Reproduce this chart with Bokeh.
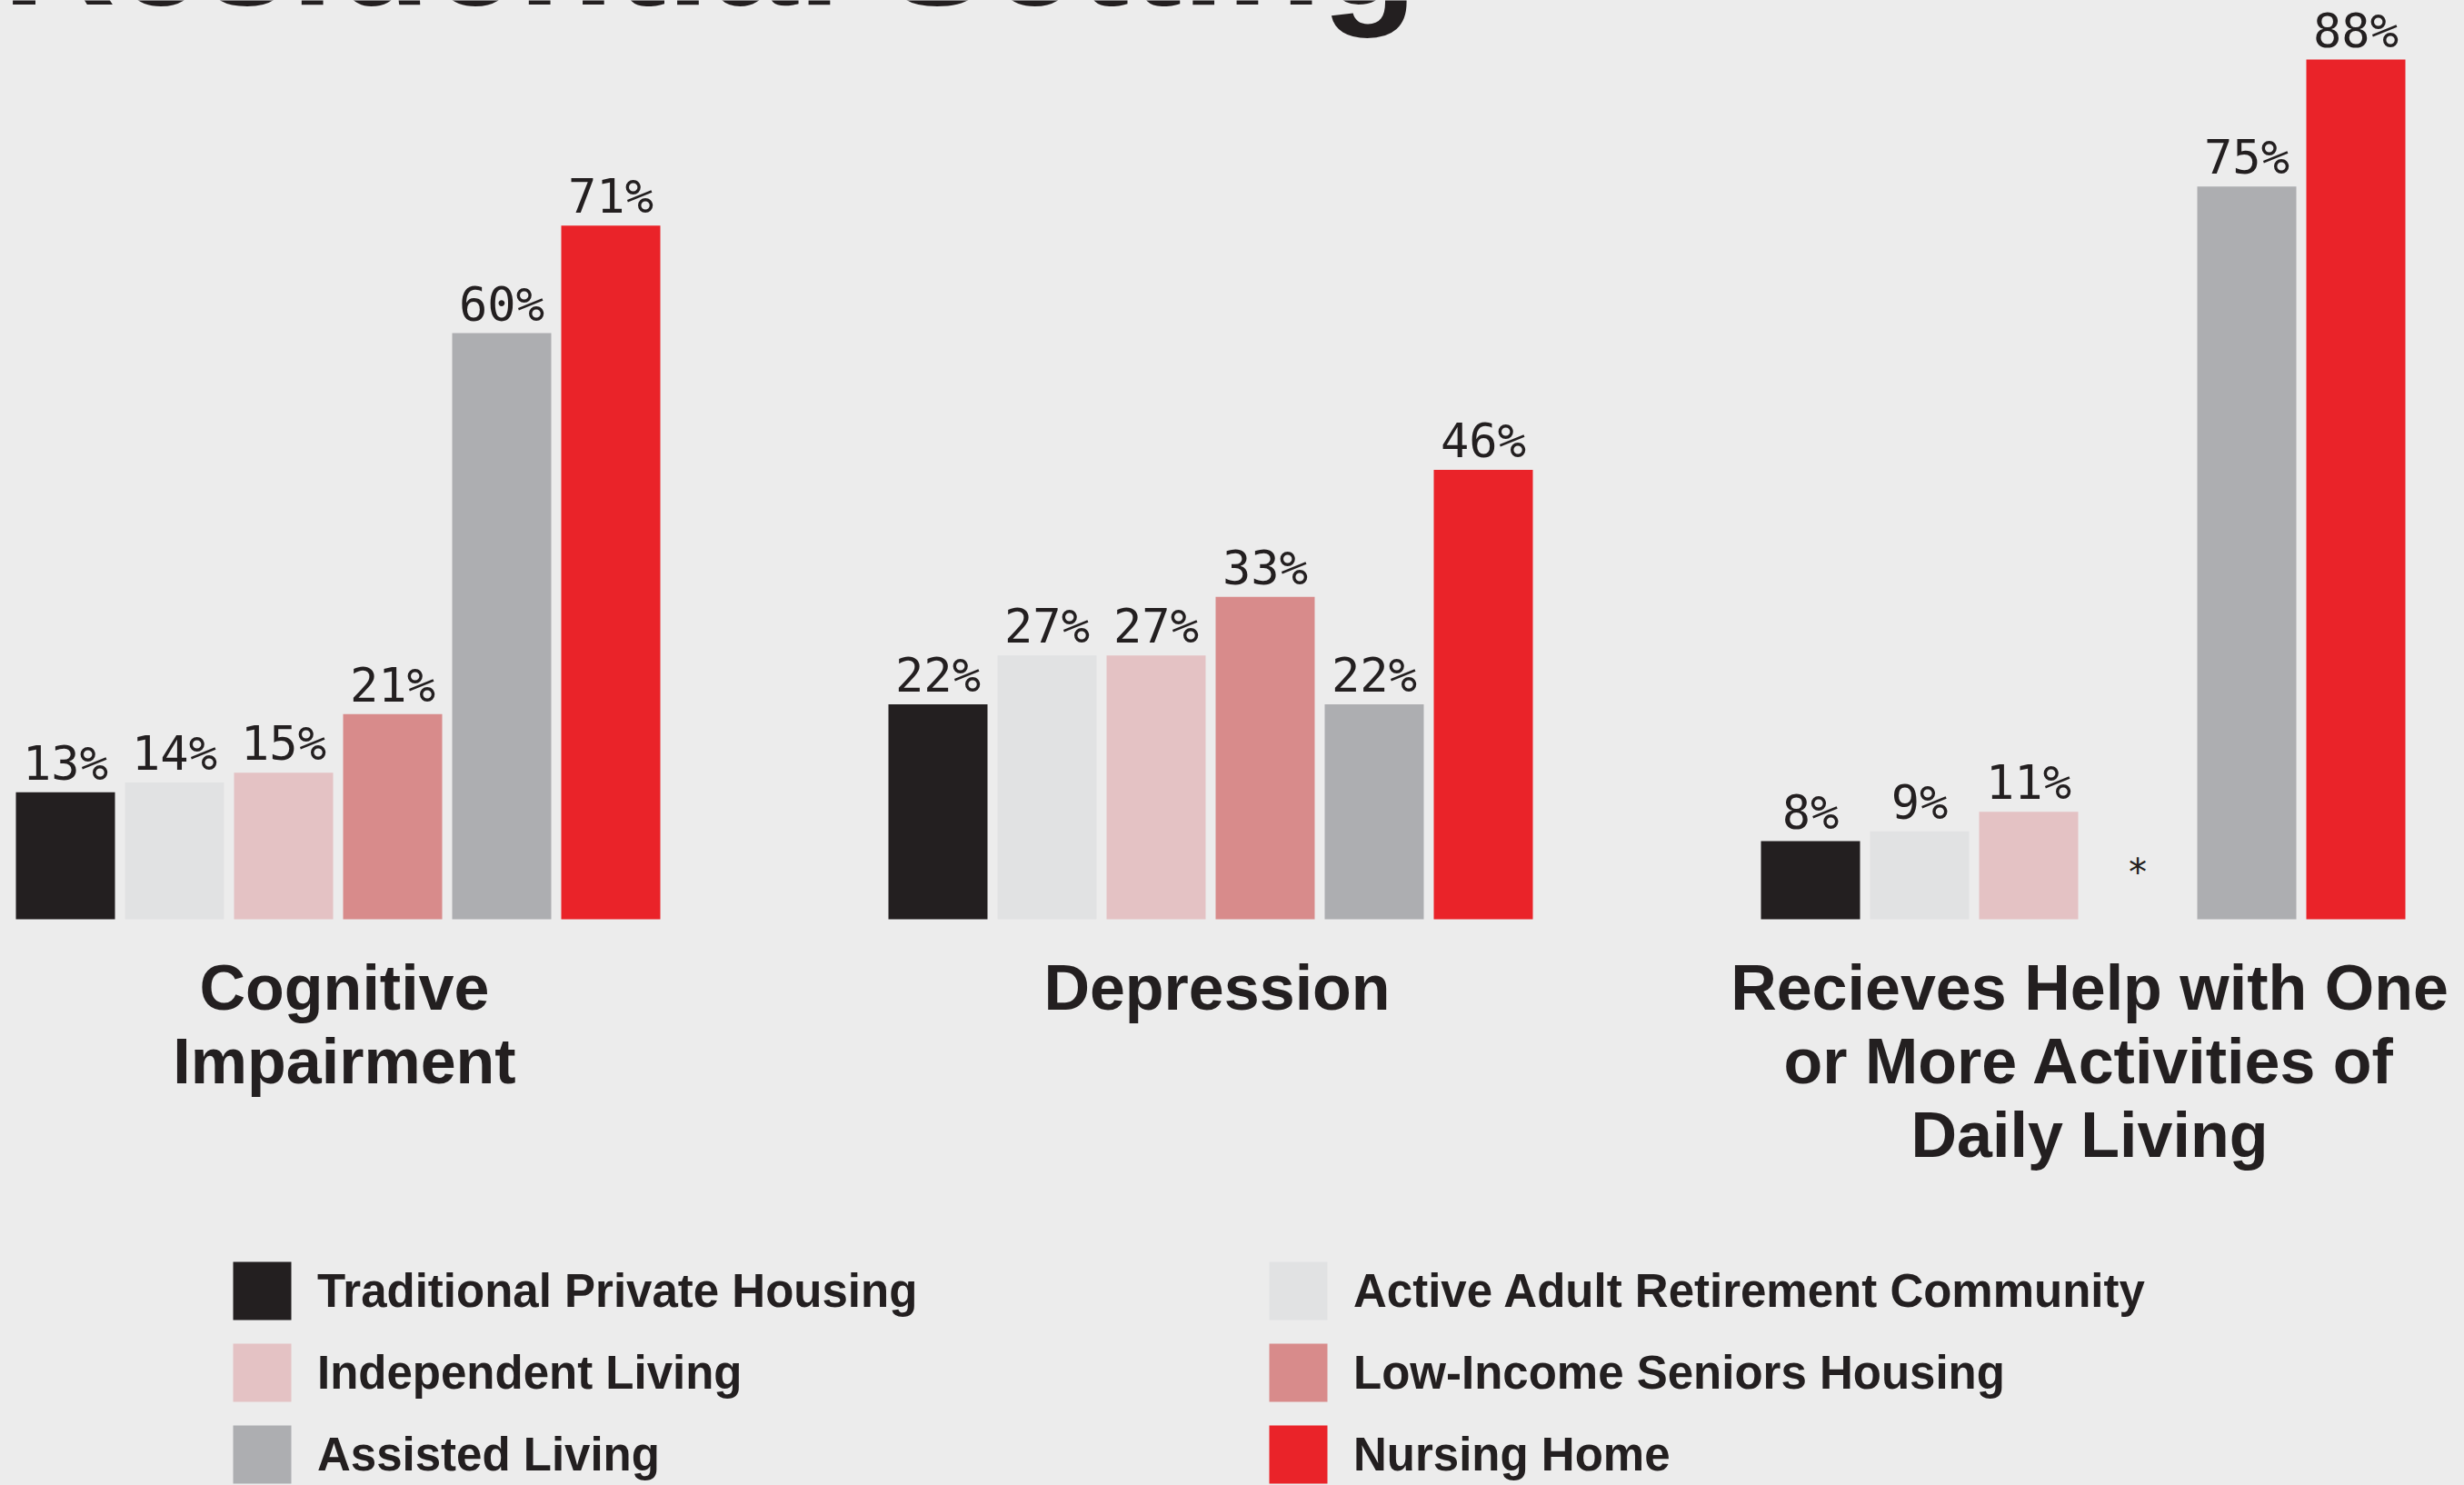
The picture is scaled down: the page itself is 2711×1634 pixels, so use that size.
from bokeh.plotting import figure
from bokeh.models import ColumnDataSource, Range1d, Legend, LegendItem
from bokeh.core.properties import value
from bokeh.embed import file_html
from bokeh.resources import INLINE

# ---------------- data ----------------
title_text = "Residential Setting"
categories = [
    "Cognitive\nImpairment",
    "Depression",
    "Recieves Help with One\nor More Activities of\nDaily Living",
]
series_names = [
    "Traditional Private Housing",
    "Active Adult Retirement Community",
    "Independent Living",
    "Low-Income Seniors Housing",
    "Assisted Living",
    "Nursing Home",
]
traditional_private_housing = [13, 22, 8]
active_adult_retirement = [14, 27, 9]
independent_living = [15, 27, 11]
low_income_seniors = [21, 33, None]   # no data -> "*"
assisted_living = [60, 22, 75]
nursing_home = [71, 46, 88]
missing_marker = "*"

series_values = [traditional_private_housing, active_adult_retirement,
                 independent_living, low_income_seniors, assisted_living,
                 nursing_home]
colors = ["#231F20", "#E1E2E3", "#E4C2C4", "#D88B8B", "#ADAEB1", "#EA2329"]

# ---------------- layout ----------------
BG = "#ECECEC"
INK = "#231F20"
W, H = 2711, 1634
PX_PER_PCT = 10.75
BASE_Y = 1011          # pixel row of the 0% baseline
PITCH = 120.0          # px per bar slot
FIRST_X = 71.5         # px centre of first bar
GROUP_STRIDE = 8       # 6 bars + 2 empty slots
BAR_W = 109 / PITCH
SHIFT = 0.38           # compensation (em) for where the renderer puts the alphabetic baseline

x_range = Range1d(-FIRST_X / PITCH, (W - FIRST_X) / PITCH)
y_range = Range1d(-(H - BASE_Y) / PX_PER_PCT, BASE_Y / PX_PER_PCT)

p = figure(width=W, height=H, x_range=x_range, y_range=y_range,
           output_backend="svg", toolbar_location=None,
           x_axis_type=None, y_axis_type=None, min_border=0)
p.background_fill_color = BG
p.border_fill_color = BG
p.outline_line_color = None
p.grid.visible = False

VAL_FS = 52
renderers = []
for si, vals in enumerate(series_values):
    xs, tops, labels = [], [], []
    miss_x = []
    for gi, v in enumerate(vals):
        x = gi * GROUP_STRIDE + si
        if v is None:
            miss_x.append(x)
        else:
            xs.append(x)
            tops.append(v)
            labels.append(f"{v}%")
    src = ColumnDataSource(dict(x=xs, top=tops, label=labels))
    r = p.vbar(x="x", top="top", bottom=0, width=BAR_W, source=src,
               fill_color=colors[si], line_color=None)
    renderers.append(r)
    p.text(x="x", y="top", text="label", source=src, text_align="center",
           text_baseline="alphabetic", y_offset=-12 - SHIFT * VAL_FS,
           text_font=value("DejaVu Sans Mono"), text_font_size=f"{VAL_FS}px",
           text_color=INK)
    if miss_x:
        p.text(x=miss_x, y=[0] * len(miss_x), text=[missing_marker] * len(miss_x),
               text_align="center", text_baseline="alphabetic",
               y_offset=-36 - SHIFT * 40,
               text_font=value("DejaVu Sans Mono"), text_font_size="40px",
               text_color=INK)

# category labels (one text per line)
CAT_FS = 70
cx, cy, ctext, coff = [], [], [], []
for gi, cat in enumerate(categories):
    for j, line in enumerate(cat.split("\n")):
        cx.append(gi * GROUP_STRIDE + 2.5)
        cy.append(0)
        ctext.append(line)
        coff.append(102 + 81 * j - SHIFT * CAT_FS)
csrc = ColumnDataSource(dict(x=cx, y=cy, text=ctext, yoff=coff))
p.text(x="x", y="y", text="text", y_offset="yoff", x_offset=7, source=csrc,
       text_align="center", text_baseline="alphabetic",
       text_font=value("Liberation Sans"), text_font_style="bold",
       text_font_size=f"{CAT_FS}px", text_color=INK)

# title (cut off by the top edge, as in the reference)
TITLE_FS = 173
p.text(x=[x_range.start], y=[0], text=[title_text], x_offset=2,
       y_offset=(10 - BASE_Y) - SHIFT * TITLE_FS,
       text_align="left", text_baseline="alphabetic",
       text_font=value("Liberation Sans"), text_font_style="bold",
       text_font_size=f"{TITLE_FS}px", text_color=INK)

# legends: two columns
for idxs, vx in (((0, 2, 4), 248), ((1, 3, 5), 1388)):
    items = [LegendItem(label=series_names[i], renderers=[renderers[i]]) for i in idxs]
    leg = Legend(items=items, location=(vx, -6), orientation="vertical",
                 glyph_width=80, glyph_height=80, label_height=80,
                 label_standoff=21, spacing=10, padding=0, margin=0,
                 border_line_color=None, background_fill_alpha=0,
                 label_text_font="Liberation Sans", label_text_font_style="bold",
                 label_text_font_size="51px", label_text_color=INK)
    p.add_layout(leg, "center")

html = file_html(p, INLINE)
html = html.replace("</head>", "<style>html, body {background-color: #ECECEC;}</style></head>", 1)
open("out.html", "w").write(html)
